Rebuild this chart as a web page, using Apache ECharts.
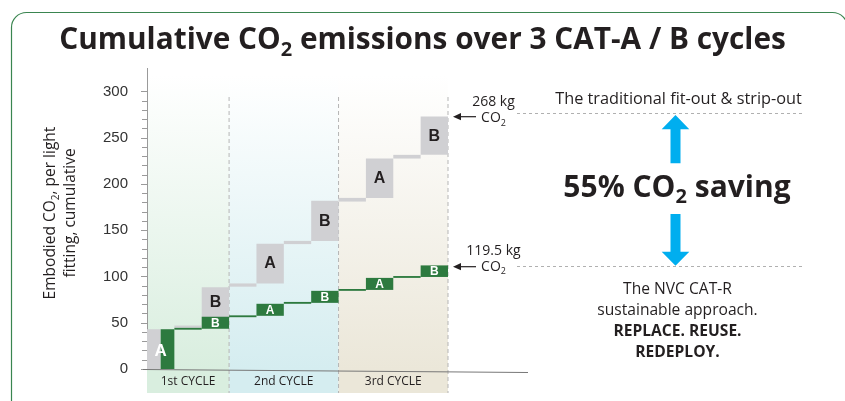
<!DOCTYPE html>
<html>
<head>
<meta charset="utf-8">
<script src="https://cdn.jsdelivr.net/npm/echarts@6/dist/echarts.min.js"></script>
<style>
html, body { margin: 0; padding: 0; background: #fff; }
#main { width: 845px; height: 401px; }
</style>
</head>
<body>
<div id="main"></div>
<script>
// 11 slots: cycle 1 = A, link, B ; cycles 2 and 3 = link, A, link, B
var slots = ['A1', 'L1', 'B1', 'L2', 'A2', 'L3', 'B2', 'L4', 'A3', 'L5', 'B3'];
var barLabels = ['A', '', 'B', '', 'A', '', 'B', '', 'A', '', 'B'];
// traditional fit-out & strip-out, cumulative kg CO2 (bottom / top of each step)
var tradBase = [0, 44.5, 46.5, 89, 92.5, 135, 138.5, 181, 185, 227.5, 231.5];
var tradTop = [43, 47, 88.5, 92.5, 135.5, 138.5, 182, 185, 227.5, 231.5, 273];
// NVC CAT-R approach
var nvcBase = [0, 42.5, 43.5, 56, 57.5, 70.5, 71.5, 84.5, 85.5, 98.5, 99.5];
var nvcTop = [43, 44.5, 56.5, 58, 70.5, 72.5, 84.5, 86.5, 98.5, 100.5, 112];
var cycles = ['1st CYCLE', '2nd CYCLE', '3rd CYCLE'];
var cycleFirst = [0, 3, 7];
var cycleLast = [2, 6, 10];
var cycleColours = ['#d9eedf', '#d5edf0', '#ebe7d9'];
var yTicks = [0, 50, 100, 150, 200, 250, 300];

var ink = '#231f20';
var grey = '#d0d0d3';
var green = '#2d7a3f';

function co2Rich(size, weight) {
    return {
        t: { fontSize: size, fontWeight: weight, fontFamily: 'Open Sans', fill: ink, lineHeight: Math.round(size * 1.27) },
        s: { fontSize: Math.round(size * 0.66), fontWeight: weight, fontFamily: 'Open Sans', fill: ink,
             lineHeight: Math.round(size * 0.85), verticalAlign: 'bottom' }
    };
}

function stepSeries(name, base, top, colour, isNvc) {
    var data = slots.map(function (s, i) { return [i, base[i], top[i]]; });
    return {
        type: 'custom',
        name: name,
        data: data,
        encode: { x: 0, y: [1, 2] },
        renderItem: function (params, api) {
            var i = api.value(0);
            var lo = api.coord([i, api.value(1)]);
            var hi = api.coord([i, api.value(2)]);
            var w = api.size([1, 0])[0];
            var x = lo[0] - w / 2;
            if (i === 0) {
                w = w / 2;
                if (isNvc) x += w;
            }
            var children = [{
                type: 'rect',
                shape: { x: x, y: hi[1], width: w, height: lo[1] - hi[1] },
                style: { fill: colour }
            }];
            var txt = barLabels[i];
            if (txt) {
                var st = null;
                if (i === 0) {
                    if (isNvc) st = { x: lo[0], y: (lo[1] + hi[1]) / 2 + 2, fill: '#fff', fontSize: 17 };
                } else if (isNvc) {
                    st = { x: lo[0], y: (lo[1] + hi[1]) / 2 + 0.5, fill: '#fff', fontSize: 12 };
                } else {
                    // keep the label in the part of the grey box not hidden by the green one
                    var vis = api.coord([i, Math.max(api.value(1), nvcTop[i])]);
                    st = { x: lo[0], y: (vis[1] + hi[1]) / 2 + 0.5, fill: ink, fontSize: 16 };
                }
                if (st) {
                    st.text = txt;
                    st.fontWeight = 'bold';
                    st.fontFamily = 'Liberation Sans';
                    st.align = 'center';
                    st.verticalAlign = 'middle';
                    children.push({ type: 'text', style: st });
                }
            }
            return { type: 'group', children: children };
        }
    };
}

var myChart = echarts.init(document.getElementById('main'));

var option = {
    animation: false,
    grid: { left: 147, right: 397, top: 91.5, bottom: 32 },
    xAxis: {
        type: 'category',
        data: slots,
        show: false
    },
    yAxis: {
        type: 'value',
        min: yTicks[0],
        max: yTicks[yTicks.length - 1],
        interval: 50,
        axisLine: { show: true, lineStyle: { color: '#9a9a9a', width: 1 } },
        axisTick: { show: true, length: 6, lineStyle: { color: '#9a9a9a' } },
        minorTick: { show: true, splitNumber: 5, length: 5, lineStyle: { color: '#9a9a9a' } },
        splitLine: { show: false },
        axisLabel: { color: '#333', fontSize: 15, fontFamily: 'Liberation Sans', margin: 19 }
    },
    series: [
        stepSeries('traditional', tradBase, tradTop, grey, false),
        stepSeries('NVC CAT-R', nvcBase, nvcTop, green, true)
    ]
};
myChart.setOption(option);

// background bands, cycle labels and annotations
var slotW = myChart.convertToPixel({ xAxisIndex: 0 }, 1) - myChart.convertToPixel({ xAxisIndex: 0 }, 0);
var y0 = myChart.convertToPixel({ yAxisIndex: 0 }, 0);
var g = [];

cycles.forEach(function (name, k) {
    var x1 = myChart.convertToPixel({ xAxisIndex: 0 }, cycleFirst[k]) - slotW / 2;
    var x2 = myChart.convertToPixel({ xAxisIndex: 0 }, cycleLast[k]) + slotW / 2;
    var top = 75, bottom = 393;
    g.push({
        type: 'rect', z: -10, silent: true,
        shape: { x: x1, y: top, width: x2 - x1, height: bottom - top },
        style: {
            fill: new echarts.graphic.LinearGradient(0, 0, 0, 1, [
                { offset: 0, color: '#ffffff' },
                { offset: (y0 - top) / (bottom - top), color: cycleColours[k] },
                { offset: 1, color: cycleColours[k] }
            ])
        }
    });
    g.push({
        type: 'line', z: -5, silent: true,
        shape: { x1: x2, y1: 97, x2: x2, y2: bottom },
        style: { stroke: '#b5b5b5', lineWidth: 1, lineDash: [4, 3] }
    });
    g.push({
        type: 'text', z: 10,
        style: { text: name, x: (x1 + x2) / 2, y: 382, align: 'center', verticalAlign: 'middle',
                 fontSize: 12, fontFamily: 'Open Sans', fill: ink }
    });
});

// axis lines drawn by hand (extended beyond the grid as in the original)
g.push({ type: 'line', z: 5, shape: { x1: 147.5, y1: 68, x2: 147.5, y2: 92 }, style: { stroke: '#9a9a9a', lineWidth: 1 } });
g.push({ type: 'line', z: 5, shape: { x1: 143, y1: y0 + 0.5, x2: 528, y2: y0 + 3.5 }, style: { stroke: '#777', lineWidth: 1 } });

// panel border
g.push({ type: 'rect', z: -20, shape: { x: 11.5, y: 12.5, width: 836, height: 420, r: 15 },
         style: { fill: 'none', stroke: '#3a8550', lineWidth: 1.2 } });

// title
g.push({
    type: 'text', z: 10,
    style: {
        text: '{t|Cumulative CO}{s|2}{t| emissions over 3 CAT-A / B cycles}',
        x: 422.5, y: 41, align: 'center', verticalAlign: 'middle',
        rich: co2Rich(29.8, 'bold')
    }
});

// y axis name
g.push({
    type: 'text', z: 10, rotation: Math.PI / 2, x: 61, y: 213,
    style: {
        text: '{t|Embodied CO}{s|2}{t|, per light}\n{t|fitting, cumulative}',
        x: 0, y: 0, align: 'center', verticalAlign: 'middle',
        rich: co2Rich(15.5, 'normal')
    }
});

// end value call-outs
function callout(val, yArrow, yTop) {
    g.push({ type: 'line', z: 10, shape: { x1: 459, y1: yArrow, x2: 476, y2: yArrow }, style: { stroke: ink, lineWidth: 1.2 } });
    g.push({ type: 'polygon', z: 10, shape: { points: [[453, yArrow], [461, yArrow - 3.6], [461, yArrow + 3.6]] }, style: { fill: ink } });
    g.push({ type: 'text', z: 10, style: { text: val, x: 493.5, y: yTop, align: 'center', verticalAlign: 'middle',
             fontSize: 14, fontFamily: 'Open Sans', fill: ink } });
    g.push({ type: 'text', z: 10, style: { text: '{t|CO}{s|2}', x: 493.5, y: yTop + 16, align: 'center', verticalAlign: 'middle',
             rich: co2Rich(14, 'normal') } });
}
callout('268 kg', 116.7, 102.5);
callout('119.5 kg', 266.7, 251);

g.push({ type: 'line', z: 5, shape: { x1: 517, y1: 113.5, x2: 805, y2: 113.5 }, style: { stroke: '#b0b0b0', lineWidth: 1, lineDash: [3, 3] } });
g.push({ type: 'line', z: 5, shape: { x1: 517, y1: 266.5, x2: 805, y2: 266.5 }, style: { stroke: '#b0b0b0', lineWidth: 1, lineDash: [3, 3] } });

g.push({ type: 'text', z: 10, style: { text: 'The traditional fit-out & strip-out', x: 678.5, y: 99.5, align: 'center',
         verticalAlign: 'middle', fontSize: 16.3, fontFamily: 'Open Sans', fill: ink } });

// cyan arrows
var cyan = '#00aeef';
g.push({ type: 'polygon', z: 10, shape: { points: [[675.5, 115], [689.3, 129.3], [680.5, 129.3], [680.5, 163.3], [670.5, 163.3], [670.5, 129.3], [661.7, 129.3]] }, style: { fill: cyan } });
g.push({ type: 'polygon', z: 10, shape: { points: [[670.5, 214], [680.5, 214], [680.5, 251.7], [689.3, 251.7], [675.5, 265.7], [661.7, 251.7], [670.5, 251.7]] }, style: { fill: cyan } });

g.push({
    type: 'text', z: 10,
    style: { text: '{t|55% CO}{s|2}{t| saving}', x: 677, y: 188, align: 'center', verticalAlign: 'middle',
             rich: co2Rich(30, 'bold') }
});

var lowerLines = [['The NVC CAT-R', 'normal'], ['sustainable approach.', 'normal'], ['REPLACE. REUSE.', 'bold'], ['REDEPLOY.', 'bold']];
lowerLines.forEach(function (l, k) {
    g.push({ type: 'text', z: 10, style: { text: l[0], x: 677.5, y: 289.5 + k * 21.1, align: 'center', verticalAlign: 'middle',
             fontSize: 15.6, fontWeight: l[1], fontFamily: 'Open Sans', fill: ink } });
});

myChart.setOption({ graphic: g });
</script>
</body>
</html>
